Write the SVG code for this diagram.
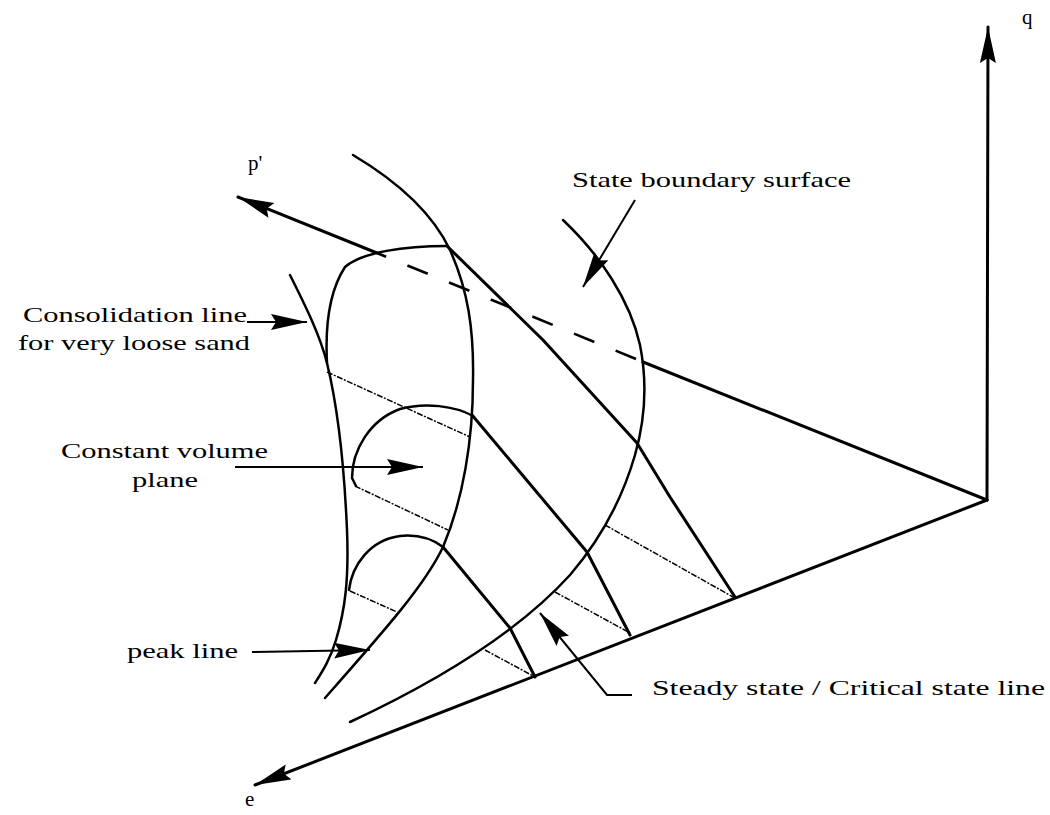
<svg xmlns="http://www.w3.org/2000/svg" width="1050" height="815" viewBox="0 0 1050 815">
<defs>
<marker id="ah" viewBox="0 0 36 18" refX="36" refY="9" markerWidth="36" markerHeight="18" markerUnits="userSpaceOnUse" orient="auto">
<path d="M0,1 L36,9 L0,17 L5,9 Z" fill="#000"/>
</marker>
<style>
.ax{fill:none;stroke:#000;stroke-width:3;stroke-linecap:round}
.cv{fill:none;stroke:#000;stroke-width:2.5;stroke-linecap:round;stroke-linejoin:round}
.th{fill:none;stroke:#000;stroke-width:3;stroke-linecap:round;stroke-linejoin:round}
.dt{fill:none;stroke:#000;stroke-width:1.5;stroke-dasharray:6 1.5 2 1.5}
.ld{fill:none;stroke:#000;stroke-width:2;stroke-linejoin:miter}
.dash{fill:none;stroke:#000;stroke-width:2.6;stroke-dasharray:22 23}
text{font-family:"Liberation Serif","Times New Roman",serif;font-size:21px;fill:#000}
</style>
</defs>
<rect width="1050" height="815" fill="#fff"/>

<g id="axes">
<path id="q-axis" class="ax" d="M987,500 L988,27" marker-end="url(#ah)"/>
<path id="e-axis" class="ax" d="M987,500 L255,785" marker-end="url(#ah)"/>
<path id="p-axis-near" class="ax" d="M987,500 L643,362"/>
<path id="p-axis-hidden" class="dash" d="M636,359 L377,253"/>
<path id="p-axis-far" class="ax" d="M377,253 L238,197" marker-end="url(#ah)"/>
</g>

<g id="curves">
<path id="consolidation-line" class="cv" d="M290,275 C305,305 320,335 327,363 C336,400 344,460 347,530 C349,580 345,610 336,640 C330,660 322,672 315,683"/>
<path id="loop-top" class="cv" d="M327,363 C325,325 330,290 345,267 C362,252 405,246 447,246"/>
<path id="peak-curve" class="cv" d="M353,155 C395,180 432,212 450,250 C468,290 474,330 473,380 C473,440 463,500 443,547 C425,585 385,630 325,698"/>
<path id="loop-mid" class="cv" d="M356,486 L352,478 C352,450 370,420 400,409 C425,402 455,406 473,416"/>
<path id="loop-bottom" class="cv" d="M349,590 C352,565 370,540 400,536 C420,534 435,541 443,547"/>
<path id="sbs-edge" class="cv" d="M563,220 C600,255 630,300 640,345 C648,385 645,420 635,455 C622,500 600,540 570,575 C520,630 440,680 350,722"/>
</g>

<g id="sections">
<path class="th" d="M447,246 L543,340 L637,443 L670,497 L735,597"/>
<path class="th" d="M472,415 L587,552 L630,635"/>
<path class="th" d="M443,547 L510,628 L535,677"/>
</g>

<g id="dotted">
<path class="dt" d="M327,372 L470,437"/>
<path class="dt" d="M355,486 L448,530"/>
<path class="dt" d="M350,591 L397,612"/>
<path class="dt" d="M605,525 L733,597"/>
<path class="dt" d="M555,592 L630,633"/>
<path class="dt" d="M485,650 L535,677"/>
</g>

<g id="connectors">
<path class="ld" d="M247,322 L307,322" marker-end="url(#ah)"/>
<path class="ld" d="M235,467 L423,467" marker-end="url(#ah)"/>
<path class="ld" d="M252,652 L370,650" marker-end="url(#ah)"/>
<path class="ld" d="M635,200 L583,287" marker-end="url(#ah)"/>
<path class="ld" d="M632,695 L607,695 L540,613" marker-end="url(#ah)"/>
</g>

<g id="label-q"><text x="1022" y="24">q</text></g>
<g id="label-p"><text x="248" y="170">p'</text></g>
<g id="label-e"><text x="245" y="806">e</text></g>
<g id="label-sbs"><text x="572" y="187" textLength="279" lengthAdjust="spacingAndGlyphs">State boundary surface</text></g>
<g id="label-consolidation">
<text x="247" y="322" text-anchor="end" textLength="224" lengthAdjust="spacingAndGlyphs">Consolidation line</text>
<text x="250" y="350" text-anchor="end" textLength="232" lengthAdjust="spacingAndGlyphs">for very loose sand</text>
</g>
<g id="label-constant-volume">
<text x="268" y="458" text-anchor="end" textLength="207" lengthAdjust="spacingAndGlyphs">Constant volume</text>
<text x="165" y="487" text-anchor="middle" textLength="66" lengthAdjust="spacingAndGlyphs">plane</text>
</g>
<g id="label-peak"><text x="238" y="658" text-anchor="end" textLength="111" lengthAdjust="spacingAndGlyphs">peak line</text></g>
<g id="label-steady"><text x="652" y="695" textLength="393" lengthAdjust="spacingAndGlyphs">Steady state / Critical state line</text></g>
</svg>
